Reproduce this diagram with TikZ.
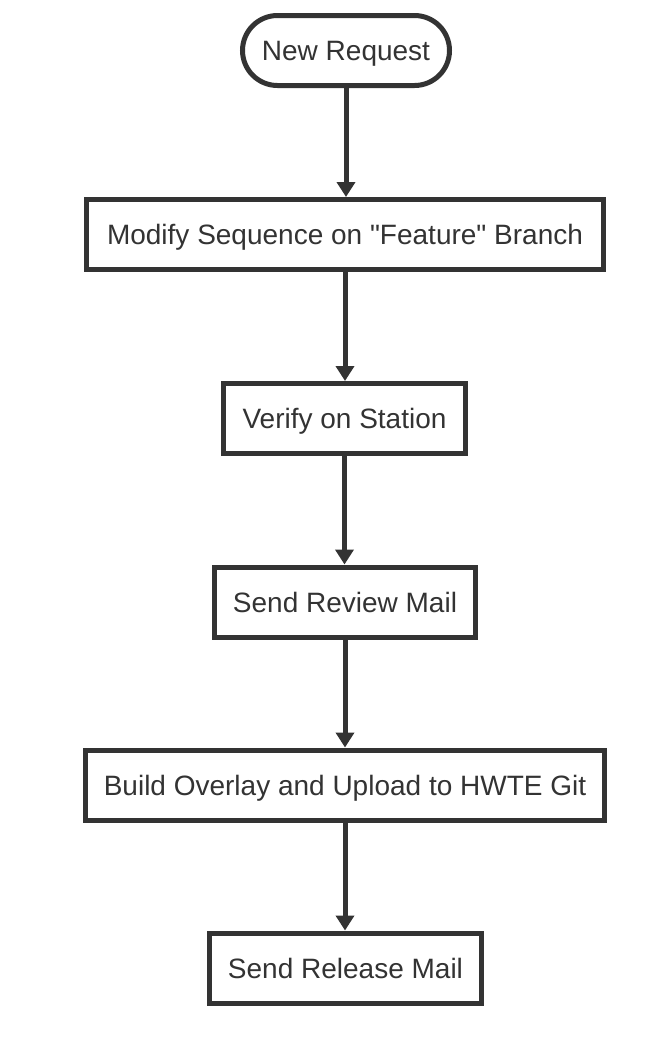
\documentclass[tikz,border=0pt]{standalone}
\usepackage{fontspec}
\setmainfont{Liberation Sans}[Ligatures=TeXOff]
\usetikzlibrary{arrows.meta,shapes.misc}
\definecolor{ink}{HTML}{333333}
\begin{document}
\begin{tikzpicture}[x=1pt,y=1pt,
  every node/.style={text=ink,font=\fontsize{28}{32}\selectfont,text height=20pt,text depth=0pt},
  stepbox/.style={draw=ink,line width=5pt,fill=white,rectangle,minimum height=70pt,inner sep=0pt},
  startbox/.style={draw=ink,line width=5pt,fill=white,rounded rectangle,minimum height=70pt,minimum width=207pt,inner sep=0pt},
  flow/.style={draw=ink,line width=5pt,-{Triangle[width=18pt,length=15pt]}}]
\useasboundingbox (0,0) rectangle (660,-1042);
\node[startbox] (n1) at (346,-50.5) {New Request};
\node[stepbox,minimum width=517pt] (n2) at (345,-234.5) {Modify Sequence on "Feature" Branch};
\node[stepbox,minimum width=242pt] (n3) at (344.5,-418.5) {Verify on Station};
\node[stepbox,minimum width=261pt] (n4) at (345,-602) {Send Review Mail};
\node[stepbox,minimum width=519pt] (n5) at (345,-785) {Build Overlay and Upload to HWTE Git};
\node[stepbox,minimum width=272pt] (n6) at (345.5,-968) {Send Release Mail};
\draw[flow] (n1.south) -- (n1.south |- n2.north);
\draw[flow] (n2.south) -- (n2.south |- n3.north);
\draw[flow] (n3.south) -- (n3.south |- n4.north);
\draw[flow] (n4.south) -- (n4.south |- n5.north);
\draw[flow] (n5.south) -- (n5.south |- n6.north);
\end{tikzpicture}
\end{document}
